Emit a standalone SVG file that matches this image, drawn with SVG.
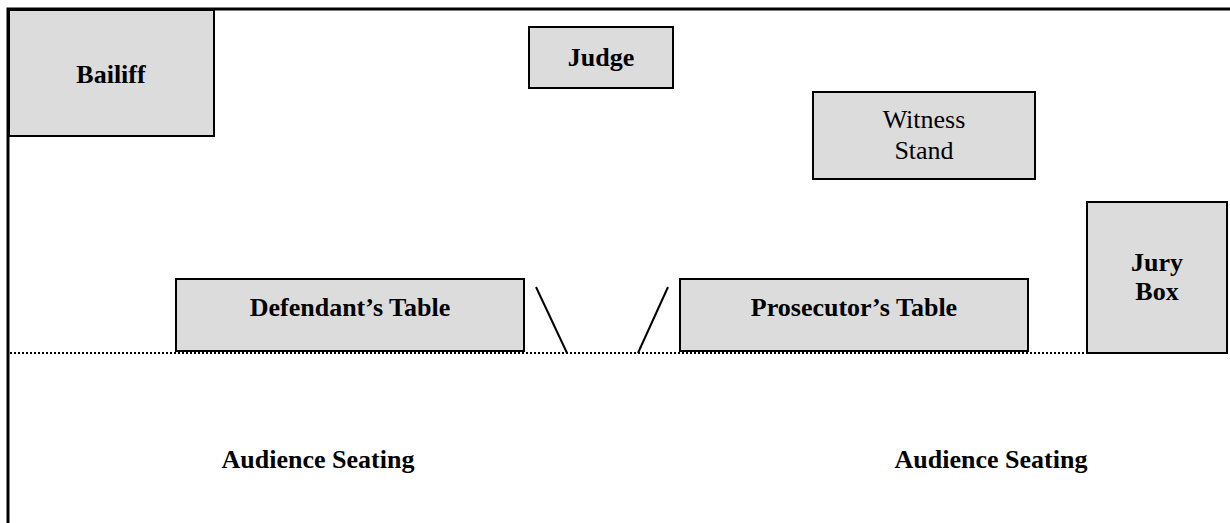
<svg xmlns="http://www.w3.org/2000/svg" width="1230" height="523" viewBox="0 0 1230 523">
<style>
.box{fill:#dcdcdc;stroke:#000;stroke-width:2}
.t{font-family:"Liberation Serif","Times New Roman",serif;font-size:26px;text-anchor:middle;fill:#000}
.b{font-weight:bold}
.ln{stroke:#000;stroke-width:2;fill:none}
</style>
<rect width="1230" height="523" fill="#fff"/>
<g id="connectors">
<path d="M8,523 V9 H1230" fill="none" stroke="#000" stroke-width="3"/>
<line x1="10" y1="353" x2="1230" y2="353" stroke="#000" stroke-width="2" stroke-dasharray="2,2"/>
<line class="ln" x1="536" y1="287" x2="567" y2="353"/>
<line class="ln" x1="668" y1="287" x2="638" y2="353"/>
</g>
<g id="bailiff"><rect class="box" x="9" y="10" width="205" height="126"/><text class="t b" x="111" y="83">Bailiff</text></g>
<g id="judge"><rect class="box" x="529" y="27" width="144" height="61"/><text class="t b" x="601" y="66">Judge</text></g>
<g id="witness"><rect class="box" x="813" y="92" width="222" height="87"/><text class="t" x="924" y="128">Witness</text><text class="t" x="924" y="159">Stand</text></g>
<g id="jury"><rect class="box" x="1087" y="202" width="140" height="151"/><text class="t b" x="1157" y="271">Jury</text><text class="t b" x="1157" y="300">Box</text></g>
<g id="defendant"><rect class="box" x="176" y="279" width="348" height="72"/><text class="t b" x="350" y="316">Defendant’s Table</text></g>
<g id="prosecutor"><rect class="box" x="680" y="279" width="348" height="72"/><text class="t b" x="854" y="316">Prosecutor’s Table</text></g>
<g id="audience-left"><text class="t b" x="318" y="468">Audience Seating</text></g>
<g id="audience-right"><text class="t b" x="991" y="468">Audience Seating</text></g>
</svg>
